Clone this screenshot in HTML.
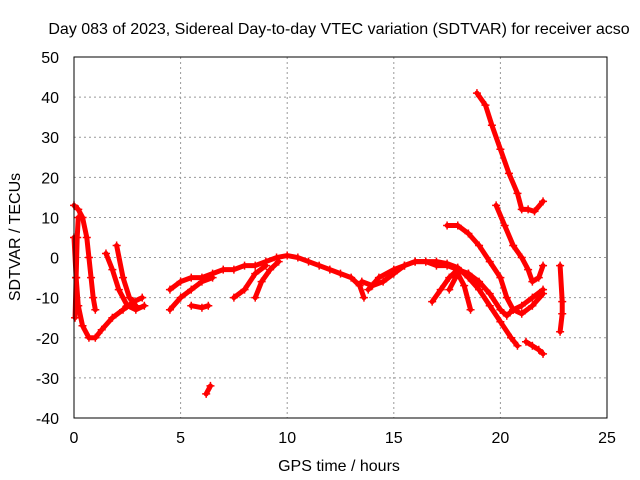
<!DOCTYPE html>
<html><head><meta charset="utf-8"><style>
body{margin:0;background:#fff}
svg{display:block;font-family:"Liberation Sans",sans-serif}
</style></head><body>
<svg id="chart" width="640" height="480">
<text x="339" y="34" font-size="16" text-anchor="middle">Day 083 of 2023, Sidereal Day-to-day VTEC variation (SDTVAR) for receiver acso</text>
<g id="grid"></g><g id="ticks"></g><g id="marks"></g>
<rect x="74" y="57" width="533" height="361" fill="none" stroke="#000"/>
<text x="339" y="471" font-size="16" text-anchor="middle">GPS time / hours</text>
<text transform="translate(20,237) rotate(-90)" font-size="16" text-anchor="middle">SDTVAR / TECUs</text>
</svg>
<script>
const xTicks=[0,5,10,15,20,25];
const yTicks=[-40,-30,-20,-10,0,10,20,30,40,50];
const t1=[[0,13],[0.2,12],[0.4,10],[0.6,5],[0.7,0],[0.8,-5],[0.9,-10],[1.0,-13]];
const t2=[[0,5],[0.1,-5],[0.2,-12],[0.4,-17],[0.7,-20],[1.0,-20],[1.3,-18],[1.8,-15],[2.3,-13],[2.8,-11],[3.2,-10]];
const t3=[[0.05,-15],[0.1,-5],[0.15,5],[0.2,10]];
const t4=[[1.5,1],[1.8,-3],[2.1,-8],[2.5,-12],[2.9,-13],[3.3,-12]];
const t5=[[2.0,3],[2.3,-5],[2.6,-10],[2.9,-12]];
const t6=[[4.5,-8],[5,-6],[5.5,-5],[6,-5],[6.5,-4],[7,-3],[7.5,-3],[8,-2],[8.5,-2],[9,-1],[9.5,0],[10,0.5],[10.5,0],[11,-1],[11.5,-2],[12,-3],[12.5,-4],[13,-5],[13.4,-7],[13.6,-10]];
const t7=[[4.5,-13],[5,-10],[5.5,-8],[6,-6],[6.5,-5]];
const t7b=[[5.5,-12],[6,-12.5],[6.3,-12]];
const t8=[[6.2,-34],[6.4,-32]];
const t9=[[7.5,-10],[8,-8],[8.5,-4],[9,-2]];
const t10=[[8.5,-10],[8.8,-6],[9.2,-3],[9.6,-1]];
const t11=[[13.5,-6],[14,-7],[14.5,-6],[15,-4],[15.5,-2],[16,-1],[16.5,-1],[17,-2],[17.5,-2],[18,-3],[18.5,-4],[19,-6],[19.5,-9],[20,-13],[20.3,-14.5],[20.6,-13],[21,-12],[21.5,-10],[22,-8]];
const t12=[[13.8,-8],[14.3,-5],[15,-3],[15.5,-2],[16,-1],[16.5,-1],[17,-1],[17.5,-1.5],[18,-2.5],[18.5,-5],[19,-8],[19.5,-12],[20,-16],[20.5,-20],[20.8,-22]];
const t13=[[16.8,-11],[17.2,-8],[17.6,-5],[18,-3],[18.5,-4],[19,-7]];
const t14=[[17.5,8],[18,8],[18.5,6],[19,3],[19.5,-1],[20,-5],[20.3,-10],[20.6,-13],[21,-14],[21.5,-12],[22,-9]];
const t15=[[18.9,41],[19.3,38],[19.6,33],[20,27],[20.4,21],[20.8,16],[21,12],[21.3,12],[21.6,11.5],[22,14]];
const t16=[[19.8,13],[20.2,8],[20.6,3],[21,0],[21.3,-3],[21.5,-6],[21.8,-5],[22,-2]];
const t17=[[21.2,-21],[21.5,-22],[21.8,-23],[22,-24]];
const t18=[[22.8,-2],[22.9,-11],[22.9,-14],[22.8,-18.5]];
const t19=[[17.6,-8],[18,-4],[18.3,-7],[18.6,-13]];
const tracks=[t1,t2,t3,t4,t5,t6,t7,t7b,t8,t9,t10,t11,t12,t13,t14,t15,t16,t17,t18,t19];
const X=v=>74+v*(533/25), Y=v=>418-(v+40)*(361/90);
const NS="http://www.w3.org/2000/svg";
function mk(t,a,p){const e=document.createElementNS(NS,t);for(const k in a)e.setAttribute(k,a[k]);p.appendChild(e);return e;}
const g=document.getElementById('grid'),tk=document.getElementById('ticks'),m=document.getElementById('marks');
xTicks.forEach(v=>{
 if(v>0&&v<25){const l=mk('line',{x1:X(v),x2:X(v),y1:57,y2:418,stroke:'#999','stroke-dasharray':'2,3'},g);
 
 }
 const t=mk('text',{x:X(v),y:443,'font-size':16,'text-anchor':'middle'},tk);t.textContent=v;
 
 
});
yTicks.forEach(v=>{
 if(v>-40&&v<50){const l=mk('line',{x1:74,x2:607,y1:Y(v),y2:Y(v),stroke:'#999','stroke-dasharray':'2,3'},g);
 
 }
 const t=mk('text',{x:59,y:Y(v)+6,'font-size':16,'text-anchor':'end'},tk);t.textContent=v;
 
 
});
tracks.forEach(tr=>{
 const pl=mk('polyline',{points:tr.map(p=>X(p[0])+','+Y(p[1])).join(' '),fill:'none',stroke:'#f00','stroke-width':5,'stroke-linejoin':'round','stroke-linecap':'round'},m);
 
 
 tr.forEach(p=>{
  const c=mk('path',{d:`M${X(p[0])-4},${Y(p[1])}h8M${X(p[0])},${Y(p[1])-4}v8`,stroke:'#f00','stroke-width':1.5},m);
  
  
 });
});
</script>
</body></html>
